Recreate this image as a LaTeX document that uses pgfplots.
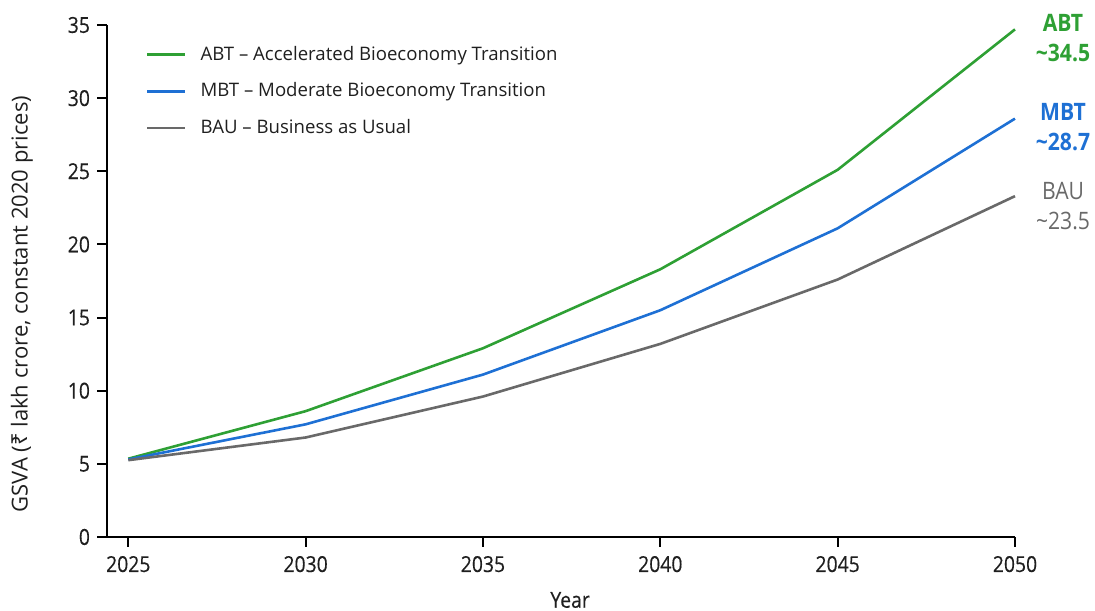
\documentclass[border=0pt]{standalone}
\usepackage{fontspec}
\setmainfont{Open Sans}
\newfontfamily\rupfont{Noto Sans}
\newfontfamily\tickfont[FakeStretch=0.88,FakeBold=0.3]{Open Sans}
\newfontfamily\endfont[FakeStretch=0.88]{Open Sans}
\usepackage{pgfplots}
\pgfplotsset{compat=1.18}
\definecolor{abt}{RGB}{46,160,52}
\definecolor{mbt}{RGB}{30,112,212}
\definecolor{bau}{RGB}{105,105,105}
\begin{document}
\begin{tikzpicture}
\begin{axis}[
  name=ax,
  scale only axis,
  width=454pt, height=256pt,
  xmin=2024.4, xmax=2050,
  ymin=0, ymax=35,
  axis x line*=bottom, axis y line*=left,
  axis line style={line width=1pt, black},
  xtick={2025,2030,2035,2040,2045,2050},
  ytick={0,5,10,15,20,25,30,35},
  xtick align=outside, ytick align=outside,
  major tick style={draw=black, line width=1pt},
  major tick length=5pt,
  x tick label style={/pgf/number format/1000 sep={}, font=\tickfont\fontsize{11}{12}\selectfont, text=black!88, yshift=-1pt},
  y tick label style={font=\tickfont\fontsize{11}{12}\selectfont, text=black!88},
  /pgf/number format/assume math mode=true,
  xlabel={Year},
  xlabel style={font=\tickfont\fontsize{11}{12}\selectfont, text=black!88, at={(axis description cs:0.51,0)}, anchor=center, yshift=-31.5pt},
  ylabel={GSVA ({\rupfont ₹} lakh crore, constant 2020 prices)},
  ylabel style={font=\fontsize{11}{12}\selectfont, text=black!88, at={(axis description cs:-0.0936,0.455)}, anchor=center},
  legend style={draw=none, fill=none, at={(axis description cs:0.036,0.975)}, anchor=north west,
    font=\fontsize{9.3}{11}\selectfont, text=black!88, row sep=5.7pt},
  legend cell align=left,
  legend image code/.code={\draw[#1, line width=1.3pt] (0pt,0pt) -- (19pt,0pt);},
  legend style={nodes={inner xsep=7pt}},
  clip=false,
]
\addplot[abt, line width=1.3pt] coordinates {(2025,5.35) (2030,8.6) (2035,12.9) (2040,18.3) (2045,25.1) (2050,34.7)};
\addlegendentry{ABT -- Accelerated Bioeconomy Transition}
\addplot[mbt, line width=1.3pt] coordinates {(2025,5.3) (2030,7.7) (2035,11.1) (2040,15.5) (2045,21.1) (2050,28.6)};
\addlegendentry{MBT -- Moderate Bioeconomy Transition}
\addplot[bau, line width=1.3pt] coordinates {(2025,5.25) (2030,6.8) (2035,9.6) (2040,13.2) (2045,17.6) (2050,23.3)};
\addlegendentry{BAU -- Business as Usual}
\pgfplotsinvokeforeach{2025,2030,2035,2040,2045,2050}{
  \draw[black, line width=1pt] (axis cs:#1,0) -- ++(0pt,-5pt);
}
\pgfplotsinvokeforeach{0,5,10,15,20,25,30,35}{
  \draw[black, line width=1pt] (axis cs:2024.4,#1) -- ++(-5pt,0pt);
}
\node[abt, font=\bfseries\endfont\fontsize{12}{13}\selectfont, align=center, inner sep=0pt] at ([xshift=24pt]axis cs:2050,34.1) {ABT\\[2pt]\textasciitilde34.5};
\node[mbt, font=\bfseries\endfont\fontsize{12}{13}\selectfont, align=center, inner sep=0pt] at ([xshift=24pt]axis cs:2050,28.0) {MBT\\[2pt]\textasciitilde28.7};
\node[bau, font=\endfont\fontsize{12}{13}\selectfont, align=center, inner sep=0pt] at ([xshift=24pt]axis cs:2050,22.6) {BAU\\[2pt]\textasciitilde23.5};
\end{axis}
\pgfresetboundingbox
\path ([xshift=-53.5pt,yshift=-37pt]ax.south west) rectangle ([xshift=40pt,yshift=12.5pt]ax.north east);
\end{tikzpicture}
\end{document}
